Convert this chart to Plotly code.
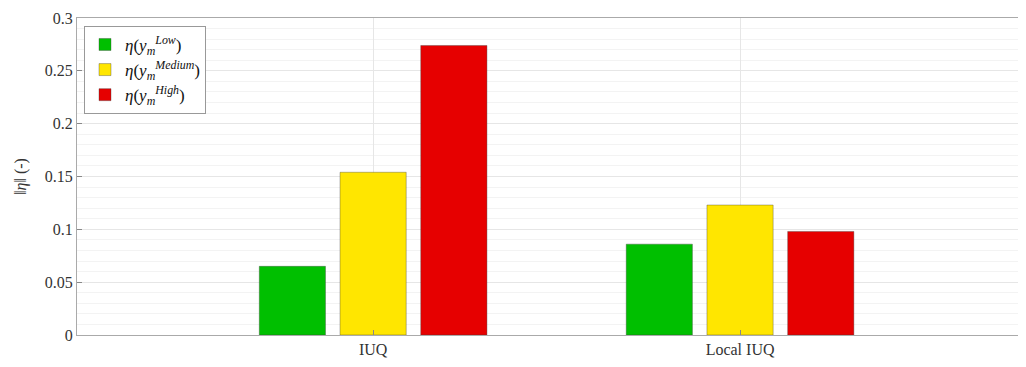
import plotly.graph_objects as go

categories = ["IUQ", "Local IUQ"]
low_vals = [0.065, 0.086]
medium_vals = [0.154, 0.123]
high_vals = [0.274, 0.098]
series_names = ["<i>η</i>(<i>y</i><sub><i>m</i></sub><sup><i>Low</i></sup>)",
                "<i>η</i>(<i>y</i><sub><i>m</i></sub><sup><i>Medium</i></sup>)",
                "<i>η</i>(<i>y</i><sub><i>m</i></sub><sup><i>High</i></sup>)"]
colors = ["#00BF00", "#FFE600", "#E60000"]
y_ticks = [0, 0.05, 0.1, 0.15, 0.2, 0.25, 0.3]
y_tick_text = ["0", "0.05", "0.1", "0.15", "0.2", "0.25", "0.3"]

x_pos = [1, 2]
fig = go.Figure()
for name, vals, c in zip(series_names, [low_vals, medium_vals, high_vals], colors):
    fig.add_trace(go.Bar(x=x_pos, y=vals, name=name, marker_color=c,
                         marker_line=dict(color="rgba(60,60,60,0.45)", width=0.8)))

font = "Liberation Serif, Times New Roman, serif"
fig.update_layout(
    width=1030, height=359,
    margin=dict(l=69, r=0, t=10, b=32, autoexpand=False),
    paper_bgcolor="white", plot_bgcolor="white",
    barmode="group", bargap=0.34, bargroupgap=0.18,
    font=dict(family=font, size=16, color="#333333"),
    legend=dict(x=0.0073, y=0.975, xanchor="left", yanchor="top",
                bgcolor="white", bordercolor="#999999", borderwidth=1,
                font=dict(family=font, size=17, color="#111111"),
                tracegroupgap=0, itemwidth=30),
    showlegend=True,
)
fig.update_xaxes(
    range=[0.193, 2.812], tickvals=x_pos, ticktext=categories,
    showgrid=True, gridcolor="#E6E6E6", gridwidth=1,
    showline=True, linecolor="#AAAAAA", linewidth=1, mirror=True,
    ticks="inside", ticklen=5, tickcolor="#888888",
    tickfont=dict(family=font, size=16, color="#333333"), zeroline=False,
)
fig.update_yaxes(
    range=[0, 0.3], tickvals=y_ticks, ticktext=y_tick_text,
    showgrid=True, gridcolor="#E6E6E6", gridwidth=1,
    minor=dict(dtick=0.01, showgrid=True, gridcolor="#F3F3F3", gridwidth=1),
    showline=True, linecolor="#AAAAAA", linewidth=1, mirror=True,
    ticks="inside", ticklen=5, tickcolor="#888888",
    tickfont=dict(family=font, size=16, color="#333333"), zeroline=False,
    title=dict(text="‖<i>η</i>‖ (-)", font=dict(family=font, size=16, color="#333333"), standoff=14),
)
fig.write_html("out.html")
